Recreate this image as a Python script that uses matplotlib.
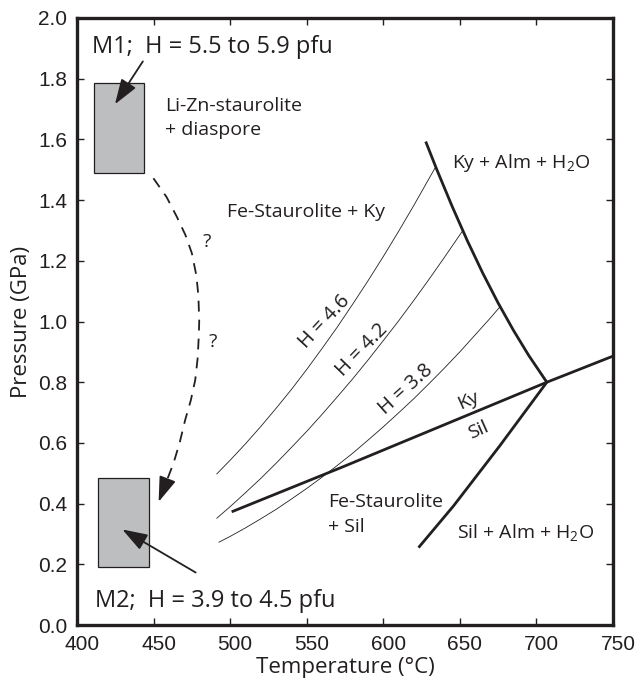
import numpy as np
import matplotlib.pyplot as plt
import matplotlib.transforms as mtransforms
from matplotlib.patches import Rectangle

plt.rcParams['font.family'] = ['Open Sans', 'DejaVu Sans']
plt.rcParams['mathtext.fontset'] = 'custom'
plt.rcParams['mathtext.rm'] = 'Open Sans'

ink = '#231f20'
box_gray = '#bcbec0'

# sample boxes: T range, P range
m1_T = [411, 444]
m1_P = [1.49, 1.785]
m2_T = [414, 447]
m2_P = [0.19, 0.485]

# reaction boundaries (thick)
kyalm_T = [627.7, 635, 645, 655, 665, 675, 685, 695, 706.8]
kyalm_P = [1.593, 1.500, 1.379, 1.265, 1.159, 1.061, 0.971, 0.888, 0.800]
kysil_T = [501.0, 574.0, 706.8, 750.0]
kysil_P = [0.373, 0.522, 0.800, 0.886]
silalm_T = [623.0, 645.8, 676.0, 706.8]
silalm_P = [0.255, 0.392, 0.590, 0.800]

# H isopleths (thin)
h46_T = [491.3, 500, 510, 520, 530, 540, 550, 560, 570, 580, 590, 600, 610, 620, 633.7]
h46_P = [0.498, 0.543, 0.597, 0.654, 0.714, 0.776, 0.842, 0.911, 0.982,
         1.057, 1.134, 1.214, 1.297, 1.383, 1.505]
h42_T = [491.3, 500, 510, 520, 530, 540, 550, 560, 570, 580, 590, 600, 610, 620,
         630, 640, 651.7]
h42_P = [0.352, 0.390, 0.436, 0.483, 0.533, 0.585, 0.638, 0.694, 0.752, 0.811,
         0.873, 0.937, 1.002, 1.070, 1.140, 1.212, 1.298]
h38_T = [492.7, 500, 510, 520, 530, 540, 550, 560, 570, 580, 590, 600, 610, 620,
         630, 640, 650, 660, 670, 676.3]
h38_P = [0.273, 0.292, 0.320, 0.350, 0.381, 0.415, 0.450, 0.487, 0.526, 0.566,
         0.609, 0.653, 0.699, 0.746, 0.796, 0.847, 0.900, 0.956, 1.012, 1.049]

# inferred path M1 -> M2 (dashed)
path_T = [449.9, 458.5, 465.2, 470.8, 475.0, 478.0, 479.3, 479.8, 479.5, 478.8,
          477.2, 474.3, 470.6, 467.0, 463.0, 453.3]
path_P = [1.472, 1.410, 1.345, 1.285, 1.225, 1.150, 1.082, 1.000, 0.950, 0.880,
          0.807, 0.740, 0.675, 0.600, 0.533, 0.406]

xticks = [400, 450, 500, 550, 600, 650, 700, 750]
yticks = [0.0, 0.2, 0.4, 0.6, 0.8, 1.0, 1.2, 1.4, 1.6, 1.8, 2.0]

fig = plt.figure(figsize=(6.39, 6.87), dpi=100)
ax = fig.add_axes([0.1205, 0.0902, 0.8388, 0.8836])

for T, P in [(m1_T, m1_P), (m2_T, m2_P)]:
    ax.add_patch(Rectangle((T[0], P[0]), T[1] - T[0], P[1] - P[0],
                           facecolor=box_gray, edgecolor=ink, lw=0.9, zorder=2))

for T, P in [(kyalm_T, kyalm_P), (kysil_T, kysil_P), (silalm_T, silalm_P)]:
    ax.plot(T, P, color=ink, lw=2.0, solid_capstyle='butt', solid_joinstyle='round', zorder=3)

for T, P in [(h46_T, h46_P), (h42_T, h42_P), (h38_T, h38_P)]:
    ax.plot(T, P, color=ink, lw=0.6, zorder=3)

ax.plot(path_T, path_P, color=ink, lw=1.3, dashes=(6, 4.5), zorder=3)
tip = (path_T[-1], path_P[-1])
back = (path_T[-1] + 0.45 * (path_T[-2] - path_T[-1]),
        path_P[-1] + 0.45 * (path_P[-2] - path_P[-1]))
head = dict(arrowstyle='-|>,head_length=0.7,head_width=0.24', color=ink,
            lw=1.3, shrinkA=0, shrinkB=0, mutation_scale=22)
ax.annotate('', xy=tip, xytext=back, arrowprops=head, zorder=4)

# pointer arrows from the labels to the boxes
ax.annotate('', xy=(424.8, 1.716), xytext=(443.0, 1.857), arrowprops=head, zorder=4)
ax.annotate('', xy=(429.6, 0.315), xytext=(477.5, 0.173), arrowprops=head, zorder=4)

big = 17
mid = 14
ax.text(409.5, 1.884, 'M1;  H = 5.5 to 5.9 pfu', fontsize=big, color=ink, va='baseline')
ax.text(412.0, 0.060, 'M2;  H = 3.9 to 4.5 pfu', fontsize=big, color=ink, va='baseline')

ax.text(457.6, 1.695, 'Li-Zn-staurolite', fontsize=mid, color=ink, va='baseline')
ax.text(457.6, 1.614, '+ diaspore', fontsize=mid, color=ink, va='baseline')
ax.text(497.8, 1.345, 'Fe-Staurolite + Ky', fontsize=mid, color=ink, va='baseline')
ax.text(644.6, 1.505, r'Ky + Alm + H$_\mathrm{2}$O', fontsize=mid, color=ink, va='baseline')
ax.text(564.1, 0.388, 'Fe-Staurolite', fontsize=mid, color=ink, va='baseline')
ax.text(564.1, 0.307, '+ Sil', fontsize=mid, color=ink, va='baseline')
ax.text(648.3, 0.286, r'Sil + Alm + H$_\mathrm{2}$O', fontsize=mid, color=ink, va='baseline')

ax.text(485.0, 1.262, '?', fontsize=mid, color=ink, ha='center', va='center')
ax.text(489.0, 0.933, '?', fontsize=mid, color=ink, ha='center', va='center')

ax.text(655.4, 0.741, 'Ky', fontsize=mid, color=ink, ha='center', va='center', rotation=24)
ax.text(662.0, 0.643, 'Sil', fontsize=mid, color=ink, ha='center', va='center', rotation=24)
ax.text(562.0, 1.000, 'H = 4.6', fontsize=14.5, color=ink, ha='center', va='center', rotation=47)
ax.text(586.3, 0.906, 'H = 4.2', fontsize=14.5, color=ink, ha='center', va='center', rotation=46)
ax.text(614.6, 0.776, 'H = 3.8', fontsize=14.5, color=ink, ha='center', va='center', rotation=42)

ax.set_xlim(400, 750)
ax.set_ylim(0, 2.0)
ax.set_xticks(xticks)
ax.set_yticks(yticks)
ax.set_xticklabels([str(v) for v in xticks], family='Liberation Sans', fontsize=15, color=ink)
ax.set_yticklabels(['%.1f' % v for v in yticks], family='Liberation Sans', fontsize=15, color=ink)
ax.tick_params(direction='in', length=5, width=1, color=ink, top=True, right=True, pad=7)
for lbl in ax.get_xticklabels():
    lbl.set_transform(lbl.get_transform() + mtransforms.ScaledTranslation(0.05, 0, fig.dpi_scale_trans))
for s in ax.spines.values():
    s.set_linewidth(2.4)
    s.set_color(ink)

ax.set_xlabel('Temperature (°C)', fontsize=16, color=ink, labelpad=2)
ax.set_ylabel('Pressure (GPa)', fontsize=16, color=ink, labelpad=4)

fig.savefig('out.png', dpi=100)
